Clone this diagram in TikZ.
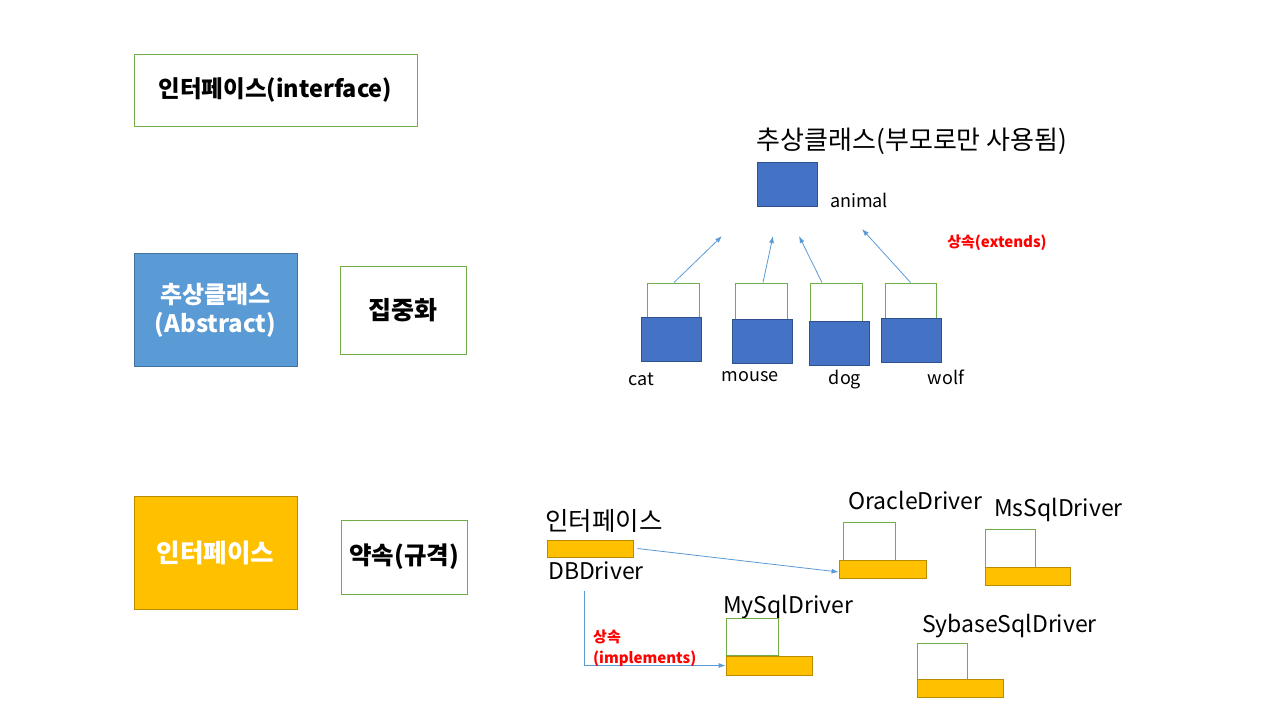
\documentclass[tikz,border=0pt]{standalone}
\usepackage{fontspec}
\setmainfont{Noto Sans CJK KR}
\usetikzlibrary{calc,arrows.meta}
\definecolor{grn}{HTML}{70AD47}
\definecolor{lblue}{HTML}{5B9BD5}
\definecolor{lblueb}{HTML}{41719C}
\definecolor{dblue}{HTML}{4472C4}
\definecolor{dblueb}{HTML}{2F528F}
\definecolor{gold}{HTML}{FFC000}
\definecolor{goldb}{HTML}{BC8C00}
\definecolor{arr}{HTML}{5B9BD5}
\tikzset{
  gbox/.style={draw=grn, line width=1pt, fill=white, inner sep=0pt},
  bbox/.style={draw=dblueb, line width=0.8pt, fill=dblue, inner sep=0pt},
  ybox/.style={draw=goldb, line width=0.8pt, fill=gold, inner sep=0pt},
  txt/.style={inner sep=0pt, font=\fontsize{18}{20}\selectfont},
  drv/.style={inner sep=0pt, font=\fontsize{23}{26}\selectfont},
  redlbl/.style={inner sep=0pt, text=red, font=\bfseries\fontsize{15}{21}\selectfont},
  conn/.style={draw=arr, line width=0.8pt, -{Latex[length=7pt,width=5pt]}},
}
\begin{document}
\begin{tikzpicture}[x=1pt,y=-1pt]
\useasboundingbox[fill=white] (0,0) rectangle (1280,720);
% left column
\node[gbox, minimum width=283pt, minimum height=72pt, font=\bfseries\fontsize{23.5}{26}\selectfont] (b1) at (275.5,90) {인터페이스(interface)};
\node[draw=lblueb, fill=lblue, line width=0.8pt, minimum width=163pt, minimum height=113pt, text=white, align=center, font=\bfseries\fontsize{24}{29}\selectfont] (b2) at (215.5,310) {추상클래스\\(Abstract)};
\node[gbox, minimum width=126pt, minimum height=88pt, font=\bfseries\fontsize{25}{28}\selectfont] (b3) at (403,310) {집중화};
\node[ybox, minimum width=163pt, minimum height=113pt, text=white, font=\bfseries\fontsize{25.5}{28}\selectfont] (b4) at (215.5,552.5) {인터페이스};
\node[gbox, minimum width=126pt, minimum height=74pt, font=\bfseries\fontsize{24.5}{28}\selectfont] (b5) at (404,557) {약속(규격)};
% abstract class tree
\node[inner sep=0pt, font=\fontsize{26}{30}\selectfont] (title) at (912,141) {추상클래스(부모로만 사용됨)};
\node[bbox, minimum width=60pt, minimum height=44pt] (animal) at (787,184) {};
\node[txt] (animallbl) at (859,200) {animal};
\node[redlbl] (ext) at (997,243) {상속(extends)};
\node[gbox, minimum width=52pt, minimum height=34pt] (catg) at (673,300) {};
\node[gbox, minimum width=52pt, minimum height=36pt] (mouseg) at (761,301) {};
\node[gbox, minimum width=52pt, minimum height=38pt] (dogg) at (836,302) {};
\node[gbox, minimum width=51pt, minimum height=35pt] (wolfg) at (910.5,300.5) {};
\node[bbox, minimum width=60pt, minimum height=44pt] (catb) at (671,339) {};
\node[bbox, minimum width=60pt, minimum height=44pt] (mouseb) at (762,341) {};
\node[bbox, minimum width=60pt, minimum height=44pt] (dogb) at (839,343) {};
\node[bbox, minimum width=60pt, minimum height=44pt] (wolfb) at (911,340) {};
\node[txt] (catl) at (641,379) {cat};
\node[txt] (mousel) at (750,377) {mouse};
\node[txt] (dogl) at (845,380) {dog};
\node[txt] (wolfl) at (946,377) {wolf};
\coordinate (tcat) at (722,236);
\coordinate (tmouse) at (773,236);
\coordinate (tdog) at (799,236);
\coordinate (twolf) at (862,229);
\draw[conn] ($(catg.north)+(1,0)$) -- (tcat);
\draw[conn] ($(mouseg.north)+(2,0)$) -- (tmouse);
\draw[conn] ($(dogg.north)+(-14,0)$) -- (tdog);
\draw[conn] (wolfg.north) -- (twolf);
% interface drivers
\node[inner sep=0pt, font=\fontsize{25.5}{28}\selectfont] (ifl) at (604,521) {인터페이스};
\node[ybox, minimum width=86pt, minimum height=17pt] (dbd) at (590,548.5) {};
\node[drv] (dbl) at (596,571) {DBDriver};
\node[drv] (oral) at (915.5,500) {OracleDriver};
\node[gbox, minimum width=52pt, minimum height=38pt] (orag) at (869,541) {};
\node[ybox, minimum width=87pt, minimum height=18pt] (oray) at (882.5,569) {};
\node[drv] (msl) at (1058.5,510) {MsSqlDriver};
\node[gbox, minimum width=50pt, minimum height=38pt] (msg) at (1010,548) {};
\node[ybox, minimum width=85pt, minimum height=18pt] (msy) at (1027.5,576) {};
\node[drv] (myl) at (788,607) {MySqlDriver};
\node[gbox, minimum width=52pt, minimum height=37pt] (myg) at (752,636.5) {};
\node[ybox, minimum width=86pt, minimum height=19pt] (myy) at (769,665.5) {};
\node[drv] (syl) at (1009.5,626) {SybaseSqlDriver};
\node[gbox, minimum width=50pt, minimum height=37pt] (syg) at (942,661.5) {};
\node[ybox, minimum width=86pt, minimum height=18pt] (syy) at (960,688) {};
\draw[conn] ($(dbd.east)+(4,0)$) -- ($(oray.west)+(0,3)$);
\coordinate (elb) at (584,591);
\draw[conn] (elb) |- (myy.west);
\node[redlbl, anchor=west, align=left] (impl) at (593,648.5) {상속\\(implements)};
\end{tikzpicture}
\end{document}
